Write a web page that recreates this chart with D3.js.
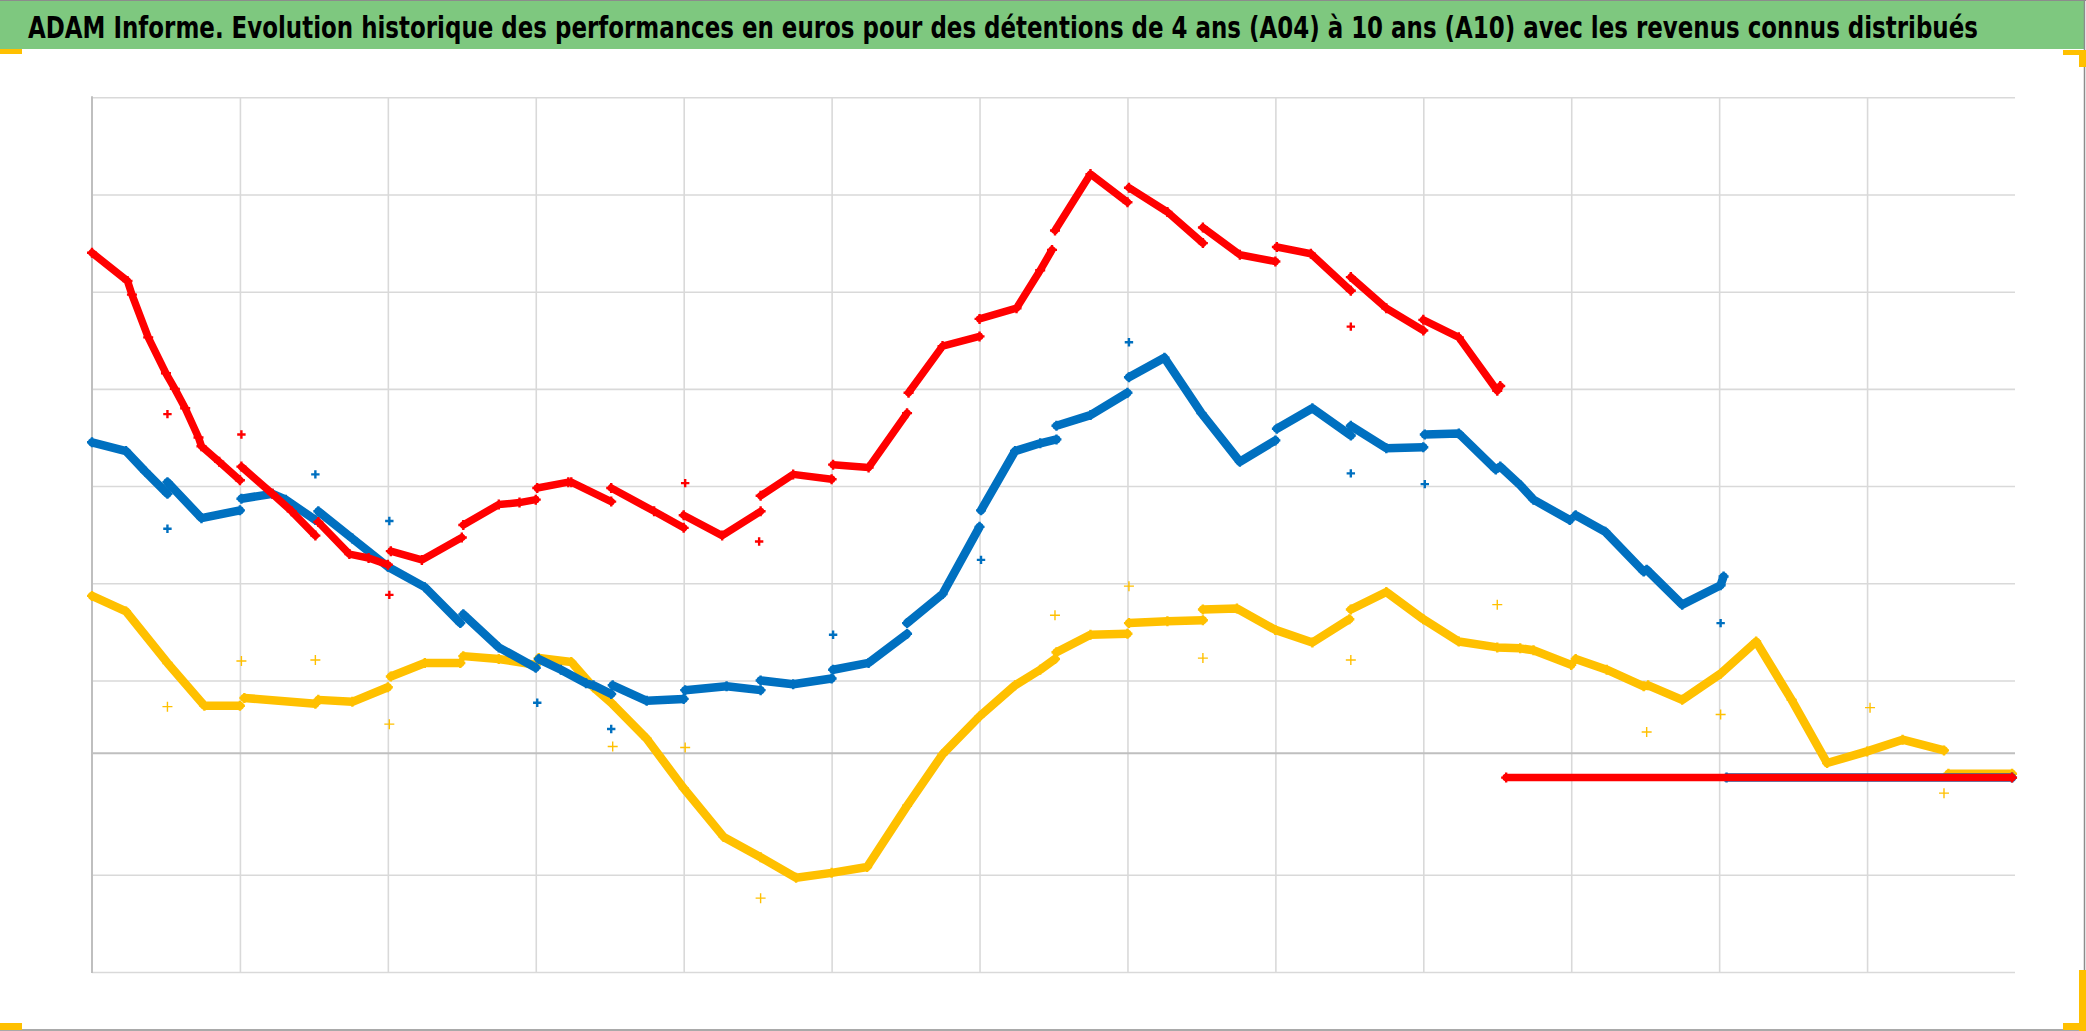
<!DOCTYPE html>
<html><head><meta charset="utf-8">
<script src="https://cdn.jsdelivr.net/npm/d3@7"></script>
<style>html,body{margin:0;padding:0;background:#fff;overflow:hidden}</style>
</head><body><svg id="c" width="2086" height="1031"></svg>
<script>
// ---- text ----
const titleText = "ADAM Informe. Evolution historique des performances en euros pour des détentions de 4 ans (A04) à 10 ans (A10) avec les revenus connus distribués";

// ---- axes (no tick labels shown in the reference) ----
const xDomain = [1998, 2024];
const yDomain = [-2, 7];               // k€
const xGridValues = [2000, 2002, 2004, 2006, 2008, 2010, 2012, 2014, 2016, 2018, 2020, 2022];
const yGridValues = [-2, -1, 1, 2, 3, 4, 5, 6, 7];
const yAxisCrossing = 0.25;

// ---- series: A10 (red) ----
const redSegments = [
  [[1998.00,5.40],[1998.48,5.11],[1998.54,4.97],[1998.76,4.53],[1999.00,4.16],[1999.12,4.00],[1999.26,3.80],[1999.44,3.50],[1999.48,3.41],[1999.72,3.25],[2000.00,3.06]],
  [[2000.02,3.20],[2000.44,2.92],[2000.70,2.74],[2001.02,2.49]],
  [[2001.06,2.63],[2001.48,2.30],[2001.74,2.26],[2002.00,2.19]],
  [[2002.04,2.33],[2002.46,2.24],[2003.00,2.47]],
  [[2003.02,2.60],[2003.50,2.81],[2003.78,2.83],[2004.00,2.86]],
  [[2004.02,2.98],[2004.44,3.04],[2004.48,3.04],[2005.02,2.84]],
  [[2005.02,2.98],[2005.60,2.74],[2006.00,2.57]],
  [[2006.00,2.70],[2006.52,2.49],[2007.04,2.74]],
  [[2007.04,2.90],[2007.48,3.12],[2008.00,3.07]],
  [[2008.02,3.22],[2008.50,3.19],[2009.02,3.75]],
  [[2009.04,3.96],[2009.50,4.44],[2010.00,4.54]],
  [[2010.00,4.72],[2010.50,4.83],[2010.82,5.22],[2010.98,5.43]],
  [[2011.02,5.63],[2011.50,6.21],[2012.00,5.92]],
  [[2012.02,6.07],[2012.54,5.82],[2013.02,5.50]],
  [[2013.02,5.66],[2013.52,5.38],[2014.00,5.31]],
  [[2014.02,5.46],[2014.48,5.39],[2015.02,5.01]],
  [[2015.02,5.15],[2015.50,4.83],[2016.00,4.60]],
  [[2016.00,4.71],[2016.48,4.53],[2017.00,3.98],[2017.04,4.03]],
  [[2017.12,0],[2023.96,0]]
];
const redOutliers = [[1999.02,3.74],[2000.02,3.53],[2002.02,1.88],[2006.02,3.03],[2007.02,2.43],[2015.02,4.64]];

// ---- series: A07 (blue) ----
const blueSegments = [
  [[1998.00,3.45],[1998.46,3.36],[1998.72,3.15],[1999.02,2.92]],
  [[1999.02,3.04],[1999.48,2.67],[2000.00,2.75]],
  [[2000.02,2.87],[2000.44,2.92],[2000.62,2.86],[2001.02,2.65]],
  [[2001.06,2.74],[2001.52,2.46],[2002.00,2.17],[2002.50,1.96],[2002.98,1.59]],
  [[2003.02,1.68],[2003.50,1.34],[2004.00,1.13]],
  [[2004.04,1.22],[2004.34,1.11],[2004.68,0.97],[2004.78,0.95],[2005.02,0.86]],
  [[2005.04,0.95],[2005.50,0.79],[2006.00,0.81]],
  [[2006.02,0.90],[2006.58,0.94],[2007.04,0.90]],
  [[2007.04,1.00],[2007.48,0.96],[2008.00,1.02]],
  [[2008.02,1.11],[2008.50,1.18],[2009.02,1.48]],
  [[2009.02,1.59],[2009.50,1.89],[2010.00,2.58]],
  [[2010.02,2.75],[2010.48,3.36],[2010.82,3.44],[2011.04,3.48]],
  [[2011.04,3.62],[2011.50,3.73],[2012.00,3.96]],
  [[2012.02,4.12],[2012.50,4.32],[2013.00,3.75],[2013.52,3.25],[2014.00,3.47]],
  [[2014.02,3.59],[2014.50,3.80],[2015.02,3.52]],
  [[2015.02,3.62],[2015.50,3.39],[2016.00,3.40]],
  [[2016.02,3.53],[2016.48,3.54],[2016.98,3.17],[2017.04,3.20],[2017.31,3.01],[2017.49,2.86],[2017.98,2.65]],
  [[2018.06,2.70],[2018.46,2.53],[2018.98,2.12],[2019.02,2.14],[2019.50,1.78],[2020.02,1.98],[2020.06,2.07]],
  [[2020.10,0],[2023.96,0]]
];
const blueOutliers = [[1999.02,2.56],[2001.02,3.12],[2002.02,2.64],[2004.02,0.77],[2005.02,0.50],[2008.02,1.47],[2010.02,2.24],[2012.02,4.48],[2015.02,3.13],[2016.02,3.02],[2020.02,1.59]];

// ---- series: A04 (yellow) ----
const yellowSegments = [
  [[1998.00,1.87],[1998.46,1.71],[1999.02,1.18],[1999.52,0.74],[2000.00,0.74]],
  [[2000.06,0.82],[2001.02,0.76]],
  [[2001.06,0.80],[2001.52,0.78],[2002.00,0.93]],
  [[2002.04,1.04],[2002.50,1.18],[2002.98,1.18]],
  [[2003.02,1.25],[2003.50,1.22],[2004.00,1.16]],
  [[2004.04,1.23],[2004.48,1.19],[2004.78,0.93],[2005.02,0.77],[2005.50,0.40],[2006.00,-0.11],[2006.54,-0.61],[2007.04,-0.82],[2007.52,-1.03],[2008.00,-0.98],[2008.48,-0.92],[2009.02,-0.29],[2009.50,0.24],[2010.00,0.63],[2010.48,0.95],[2010.82,1.11],[2011.02,1.22]],
  [[2011.04,1.29],[2011.50,1.47],[2012.00,1.48]],
  [[2012.02,1.59],[2012.54,1.61],[2013.02,1.62]],
  [[2013.02,1.73],[2013.48,1.74],[2014.00,1.52],[2014.50,1.39],[2015.00,1.63]],
  [[2015.02,1.73],[2015.50,1.91],[2016.00,1.63],[2016.48,1.40],[2017.00,1.34],[2017.31,1.33],[2017.49,1.31],[2018.00,1.16]],
  [[2018.06,1.22],[2018.48,1.11],[2018.98,0.94],[2019.04,0.95],[2019.50,0.80],[2020.02,1.07],[2020.50,1.40],[2020.98,0.80],[2021.46,0.15],[2022.00,0.27],[2022.48,0.39],[2023.04,0.28]],
  [[2023.10,0.04],[2023.96,0.04]]
];
const yellowOutliers = [[1999.02,0.73],[2000.02,1.20],[2001.02,1.21],[2002.02,0.55],[2005.04,0.32],[2006.02,0.31],[2007.04,-1.24],[2011.02,1.67],[2012.02,1.97],[2013.02,1.23],[2015.02,1.21],[2017.00,1.78],[2019.02,0.47],[2020.02,0.65],[2022.04,0.72],[2023.04,-0.16]];

// ---- drawing ----
const W = 2086, H = 1031;
const svg = d3.select("#c");
const plot = {left: 92, right: 2015, top: 97.3, bottom: 972};
const x = d3.scaleLinear().domain(xDomain).range([plot.left, plot.right]);
const y = d3.scaleLinear().domain(yDomain).range([plot.bottom, plot.top]);

svg.append("rect").attr("width", W).attr("height", H).attr("fill", "#fff");

// title bar
svg.append("rect").attr("x", 0).attr("y", 0).attr("width", 2084).attr("height", 49).attr("fill", "#7ec87f");
const title = svg.append("text").attr("x", 0).attr("y", 0)
  .attr("transform", "translate(28,38) scale(1,1.18)")
  .attr("font-family", "'Liberation Sans Narrow','DejaVu Sans Condensed','Roboto Condensed','Liberation Sans',sans-serif")
  .attr("font-weight", "bold").attr("font-size", 30).attr("fill", "#000")
  .text(titleText);
const targetW = 1950;
const natW = title.node().getComputedTextLength();
if (natW > targetW) title.attr("font-size", 30 * targetW / natW);

// gridlines via axes
const gx = svg.append("g").attr("transform", `translate(0,${plot.bottom})`)
  .call(d3.axisBottom(x).tickValues(xGridValues).tickSize(-(plot.bottom - plot.top)).tickFormat(""));
const gy = svg.append("g").attr("transform", `translate(${plot.left},0)`)
  .call(d3.axisLeft(y).tickValues(yGridValues).tickSize(-(plot.right - plot.left)).tickFormat(""));
[gx, gy].forEach(g => {
  g.select(".domain").remove();
  g.selectAll(".tick line").attr("stroke", "#d9d9d9").attr("stroke-width", 1.6);
});
// axis lines
svg.append("line").attr("x1", plot.left).attr("x2", plot.left).attr("y1", plot.top - 1).attr("y2", plot.bottom + 1)
  .attr("stroke", "#bfbfbf").attr("stroke-width", 2);
svg.append("line").attr("x1", plot.left).attr("x2", plot.right).attr("y1", y(yAxisCrossing)).attr("y2", y(yAxisCrossing))
  .attr("stroke", "#bfbfbf").attr("stroke-width", 2);

const line = d3.line().x(d => x(d[0])).y(d => y(d[1]));
const plus = (s) => `M${-s},0H${s}M0,${-s}V${s}`;

function drawSeries(segments, outliers, color, width, outSize, outStroke) {
  const g = svg.append("g");
  g.selectAll("path.seg").data(segments).join("path").attr("class", "seg")
    .attr("d", line).attr("fill", "none").attr("stroke", color)
    .attr("stroke-width", width).attr("stroke-linejoin", "round").attr("stroke-linecap", "round");
  g.selectAll("path.v").data(segments.flat()).join("path").attr("class", "v")
    .attr("d", plus(5)).attr("transform", d => `translate(${x(d[0])},${y(d[1])})`)
    .attr("stroke", color).attr("stroke-width", 2.4).attr("fill", "none");
  g.selectAll("path.o").data(outliers).join("path").attr("class", "o")
    .attr("d", plus(outSize)).attr("transform", d => `translate(${x(d[0])},${y(d[1])})`)
    .attr("stroke", color).attr("stroke-width", outStroke).attr("fill", "none");
}
drawSeries(yellowSegments, yellowOutliers, "#ffc000", 8.5, 5, 1.4);
drawSeries(blueSegments, blueOutliers, "#0070c0", 8.5, 4.2, 2.4);
drawSeries(redSegments, redOutliers, "#ff0000", 7.5, 4.2, 2.4);

// chart frame (right / top / bottom)
svg.append("line").attr("x1", 0).attr("x2", W).attr("y1", 0.5).attr("y2", 0.5).attr("stroke", "#8c8c8c").attr("stroke-width", 1);
svg.append("line").attr("x1", 2084.5).attr("x2", 2084.5).attr("y1", 0).attr("y2", H).attr("stroke", "#8c8c8c").attr("stroke-width", 1.5);
svg.append("line").attr("x1", 0).attr("x2", W).attr("y1", 1030).attr("y2", 1030).attr("stroke", "#8c8c8c").attr("stroke-width", 1.5);

// selection handles (orange corners)
const handle = "#ffc000";
[[0,49,22,5],[2063,50,23,5],[2079,50,7,17],[0,1023,22,7],[2079,970,7,61],[2063,1023,23,7]].forEach(r => {
  svg.append("rect").attr("x", r[0]).attr("y", r[1]).attr("width", r[2]).attr("height", r[3]).attr("fill", handle);
});
</script>
</body></html>
